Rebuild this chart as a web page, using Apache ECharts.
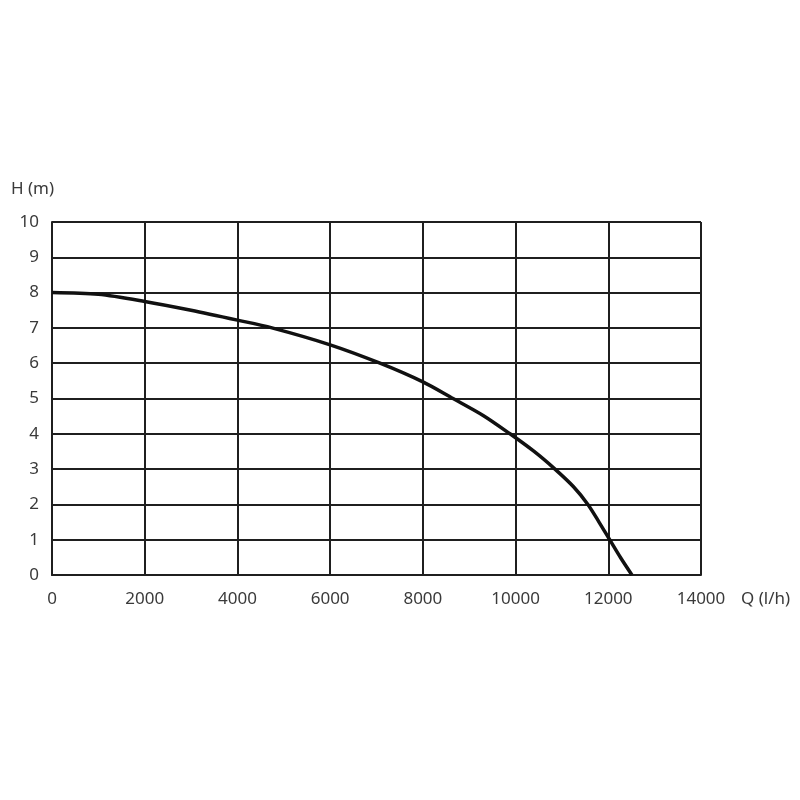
<!DOCTYPE html>
<html>
<head>
<meta charset="utf-8">
<script src="https://cdn.jsdelivr.net/npm/echarts@6/dist/echarts.min.js"></script>
<style>
  html, body { margin: 0; padding: 0; background: #fff; }
  #pump_curve { width: 800px; height: 800px; }
</style>
</head>
<body>
<div id="pump_curve"></div>
<script>
  // flow Q (l/h) and head H (m)
  var flow = [0, 1000, 2000, 3000, 4000, 4745, 6000, 7075, 8000, 8650, 9300, 9880, 10400, 10850, 11250, 11560, 11800, 12030, 12270, 12510];
  var head = [8, 7.95, 7.75, 7.5, 7.22, 7, 6.52, 6, 5.47, 5, 4.52, 4, 3.5, 3, 2.5, 2, 1.5, 1, 0.48, 0];
  var xTicks = [0, 2000, 4000, 6000, 8000, 10000, 12000, 14000];
  var yTicks = [0, 1, 2, 3, 4, 5, 6, 7, 8, 9, 10];

  var points = flow.map(function (q, i) { return [q, head[i]]; });
  var lineCol = '#1f1f1f';
  var txt = { color: '#3a3a3a', fontSize: 17, fontFamily: 'Noto Sans' };

  var chart = echarts.init(document.getElementById('pump_curve'));
  chart.setOption({
    animation: false,
    grid: { left: 52, right: 99, top: 222, bottom: 225 },
    xAxis: {
      type: 'value',
      min: xTicks[0],
      max: xTicks[xTicks.length - 1],
      interval: xTicks[1] - xTicks[0],
      name: 'Q (l/h)',
      nameLocation: 'end',
      nameGap: 40,
      nameTextStyle: Object.assign({ align: 'left', verticalAlign: 'top', padding: [16, 0, 0, 0] }, txt),
      axisLine: { show: true, lineStyle: { color: lineCol, width: 2 } },
      axisTick: { show: false },
      axisLabel: Object.assign({ margin: 16, formatter: function (v) { return String(v); } }, txt),
      splitLine: { show: true, lineStyle: { color: lineCol, width: 2 } }
    },
    yAxis: {
      type: 'value',
      min: yTicks[0],
      max: yTicks[yTicks.length - 1],
      interval: yTicks[1] - yTicks[0],
      name: 'H (m)',
      nameLocation: 'end',
      nameGap: 24,
      nameTextStyle: Object.assign({ align: 'right', padding: [0, -2, 0, 0] }, txt),
      axisLine: { show: true, lineStyle: { color: lineCol, width: 2 } },
      axisTick: { show: false },
      axisLabel: Object.assign({ margin: 13 }, txt),
      splitLine: { show: true, lineStyle: { color: lineCol, width: 2 } }
    },
    series: [{
      type: 'line',
      data: points,
      smooth: 0.3,
      showSymbol: false,
      lineStyle: { color: '#111', width: 3.5 }
    }]
  });
</script>
</body>
</html>
